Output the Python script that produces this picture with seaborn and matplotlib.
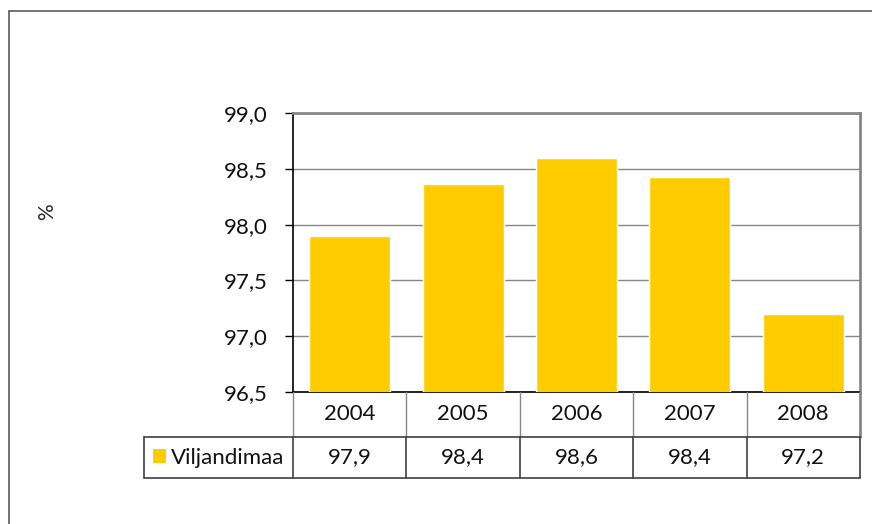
import matplotlib
matplotlib.use("Agg")
import matplotlib.pyplot as plt
import matplotlib.transforms as mtransforms
from matplotlib.lines import Line2D
from matplotlib.patches import Rectangle
import seaborn as sns
import pandas as pd

years = ["2004", "2005", "2006", "2007", "2008"]
values = [97.9, 98.36, 98.6, 98.43, 97.2]
series_name = "Viljandimaa"
y_ticks = [96.5, 97.0, 97.5, 98.0, 98.5, 99.0]

BAR = "#FFCC00"
GRID = "#878787"
DARK = "#404040"

sns.set_theme(style="white")
plt.rcParams["font.family"] = ["Lato", "DejaVu Sans"]
FS = 16

W, H = 872, 524
fig = plt.figure(figsize=(W / 100, H / 100), dpi=100)
px = lambda x0, y0: (x0 / W, 1 - y0 / H)

# plot area in pixel terms
L, R, T, B = 293, 860, 113, 392
ax = fig.add_axes([L / W, 1 - B / H, (R - L) / W, (B - T) / H])

df = pd.DataFrame({"year": years, "value": values})
sns.barplot(data=df, x="year", y="value", color=BAR, saturation=1,
            width=0.714, ax=ax, zorder=3)

ax.set_ylim(y_ticks[0], y_ticks[-1])
ax.set_xlim(-0.5, len(years) - 0.5)
ax.set_yticks(y_ticks)
ax.set_yticklabels([f"{t:.1f}".replace(".", ",") for t in y_ticks], fontsize=FS, color="#111111")
ax.set_xticks([])
ax.set_xlabel("")
ax.set_ylabel("")
ax.tick_params(axis="y", direction="out", length=6, width=1, color="black",
               pad=12, left=True)
ax.yaxis.grid(True, color=GRID, linewidth=1, zorder=0)
ax.set_axisbelow(True)

for s in ["top", "right"]:
    ax.spines[s].set_color(GRID)
    ax.spines[s].set_linewidth(2)
ax.spines["left"].set_color("black")
ax.spines["left"].set_linewidth(1.2)
ax.spines["bottom"].set_color("black")
ax.spines["bottom"].set_linewidth(1.2)

# data table under the plot
tr = mtransforms.blended_transform_factory(ax.transData, ax.transAxes)
ph = B - T
y1 = -45 / ph
y2 = -86 / ph
unit = (R - L) / len(years)
x_leg = -0.5 - (L - 144) / unit

def line(xs, ys, color, lw):
    ax.add_line(Line2D(xs, ys, transform=tr, color=color, lw=lw, clip_on=False, zorder=5))

n = len(years)
for i in range(n + 1):
    xv = i - 0.5
    line([xv, xv], [0, y1], GRID, 2 if i == n else 1)
    line([xv, xv], [y1, y2], DARK, 1.2)
line([x_leg, n - 0.5], [y1, y1], DARK, 1.2)
line([x_leg, n - 0.5], [y2, y2], DARK, 1.2)
line([x_leg, x_leg], [y1, y2], DARK, 1.2)

for i, (yr, v) in enumerate(zip(years, values)):
    ax.text(i, y1 / 2, yr, transform=tr, ha="center", va="center", fontsize=FS, color="#111111")
    ax.text(i, (y1 + y2) / 2, f"{v:.1f}".replace(".", ","), transform=tr,
            ha="center", va="center", fontsize=FS, color="#111111")

sq_x = -0.5 - (L - 153) / unit
ax.add_patch(Rectangle((sq_x, -(463 - B) / ph), 13 / unit, 14 / ph, transform=tr,
                       facecolor=BAR, edgecolor="none", clip_on=False, zorder=5))
ax.text(-0.5 - (L - 171) / unit, (y1 + y2) / 2, series_name, transform=tr,
        ha="left", va="center", fontsize=FS, color="#111111")

# percent label
fig.text(*px(47, 212), "%", rotation=90, ha="center", va="center", fontsize=FS - 1)

# outer chart frame
fig.add_artist(Line2D([9 / W, 1], [1 - 11 / H, 1 - 11 / H], transform=fig.transFigure,
                      color="#5a5a5a", lw=1.2))
fig.add_artist(Line2D([9 / W, 9 / W], [0, 1 - 11 / H], transform=fig.transFigure,
                      color="#5a5a5a", lw=1.2))

fig.savefig("out.png", dpi=100, facecolor="white")
